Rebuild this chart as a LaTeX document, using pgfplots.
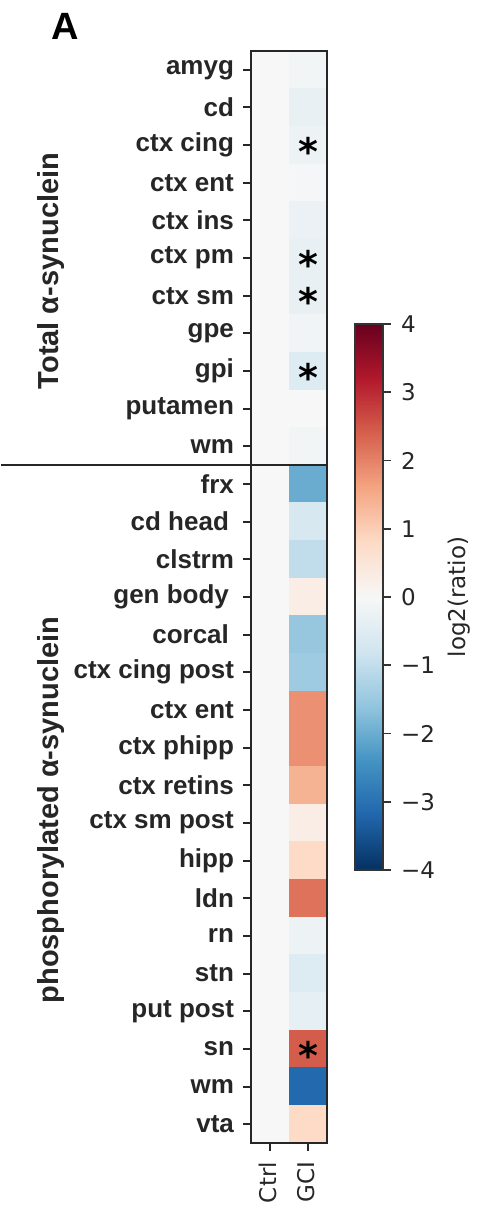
\documentclass[border=0pt]{standalone}
\usepackage{pgfplots}
\pgfplotsset{compat=1.18}
\usepackage{fontspec}
\setmainfont{Liberation Sans}
\newfontfamily\dejavu{DejaVu Sans}

% RdBu_r, the matplotlib colormap
\pgfplotsset{
  colormap={rdbur}{rgb255=(5,48,97) rgb255=(33,102,172) rgb255=(67,147,195)
    rgb255=(146,197,222) rgb255=(209,229,240) rgb255=(247,247,247)
    rgb255=(253,219,199) rgb255=(244,165,130) rgb255=(214,96,77)
    rgb255=(178,24,43) rgb255=(103,0,31)},
}
\tikzset{star/.style={font=\dejavu\bfseries\fontsize{19}{19}\selectfont, anchor=base, yshift=-10.1pt}}

\pgfplotstableread{
x y c
0 0 0
1 0 -0.1
0 1 0
1 1 -0.3
0 2 0
1 2 -0.2
0 3 0
1 3 -0.05
0 4 0
1 4 -0.25
0 5 0
1 5 -0.3
0 6 0
1 6 -0.3
0 7 0
1 7 -0.15
0 8 0
1 8 -0.55
0 9 0
1 9 0.0
0 10 0
1 10 -0.1
0 11 0
1 11 -2.0
0 12 0
1 12 -0.65
0 13 0
1 13 -1.0
0 14 0
1 14 0.3
0 15 0
1 15 -1.55
0 16 0
1 16 -1.45
0 17 0
1 17 1.85
0 18 0
1 18 1.85
0 19 0
1 19 1.4
0 20 0
1 20 0.3
0 21 0
1 21 0.8
0 22 0
1 22 2.2
0 23 0
1 23 -0.2
0 24 0
1 24 -0.55
0 25 0
1 25 -0.35
0 26 0
1 26 2.45
0 27 0
1 27 -3.15
0 28 0
1 28 0.8
}\ratios

\begin{document}
\begin{tikzpicture}[x=1pt,y=1pt]
\path (0,0) rectangle (236,607);
\node[font=\fontsize{19}{20}\selectfont\bfseries] at (32.25,594) {A};
\begin{axis}[
  name=hm,
  at={(125pt,35.5pt)}, anchor=south west,
  scale only axis, width=38pt, height=546pt,
  xmin=-0.5, xmax=1.5, ymin=-0.5, ymax=28.5,
  y dir=reverse, enlargelimits=false, clip=false, axis on top,
  axis line style={line width=1pt, black!85},
  colormap name=rdbur, point meta min=-4, point meta max=4,
  xtick={0,1}, xticklabels={Ctrl,GCI},
  ytick={0,...,28},
  yticklabels={amyg,cd,ctx cing,ctx ent,ctx ins,ctx pm,ctx sm,gpe,gpi,putamen,wm,
    frx,cd head\kern2.5pt,clstrm,gen body\kern2.5pt,corcal\kern2.5pt,ctx cing post,ctx ent,ctx phipp,
    ctx retins,ctx sm post,hipp,ldn,rn,stn,put post,sn,wm,vta},
  tick align=outside, tick pos=left, major tick length=4pt,
  tick style={line width=1pt, black!85},
  yticklabel style={font=\fontsize{13}{14}\selectfont\bfseries, text=black!85, xshift=-1pt},
  xticklabel style={font=\dejavu\fontsize{11.5}{12}\selectfont, rotate=90, anchor=east, text=black!85, xshift=-2pt, yshift=1pt},
  colorbar right,
  colorbar style={
    at={(1.368,0.75)}, anchor=north west,
    scale only axis, width=14pt, height=273pt,
    ytick={-4,...,4}, yticklabels={−4,−3,−2,−1,0,1,2,3,4},
    tick align=outside, ytick pos=right, major tick length=4pt,
    axis line style={line width=0.8pt, black!80},
    ytick style={line width=0.8pt, black!80},
    yticklabel style={font=\dejavu\fontsize{11.5}{12}\selectfont, text=black!85, xshift=1.5pt},
    ylabel={log2(ratio)},
    ylabel style={font=\dejavu\fontsize{11.5}{12}\selectfont, text=black!85,
      at={(axis description cs:3.71,0.5)}, anchor=center},
  },
]
\addplot[matrix plot*, mesh/cols=2, point meta=explicit] table[meta=c] {\ratios};
\node[star] at (axis cs:1,2) {*};
\node[star] at (axis cs:1,5) {*};
\node[star] at (axis cs:1,6) {*};
\node[star] at (axis cs:1,8) {*};
\node[star] at (axis cs:1,26) {*};
\end{axis}
% group separator and group labels, in picture points
\draw[line width=1pt, black!85] (0,374.4) -- (163.5,374.4);
\node[rotate=90, font=\fontsize{14.5}{15}\selectfont\bfseries, text=black!85]
  at (25,471.5) {Total α-synuclein};
\node[rotate=90, font=\fontsize{14.5}{15}\selectfont\bfseries, text=black!85]
  at (25,202) {phosphorylated α-synuclein};
\end{tikzpicture}
\end{document}
